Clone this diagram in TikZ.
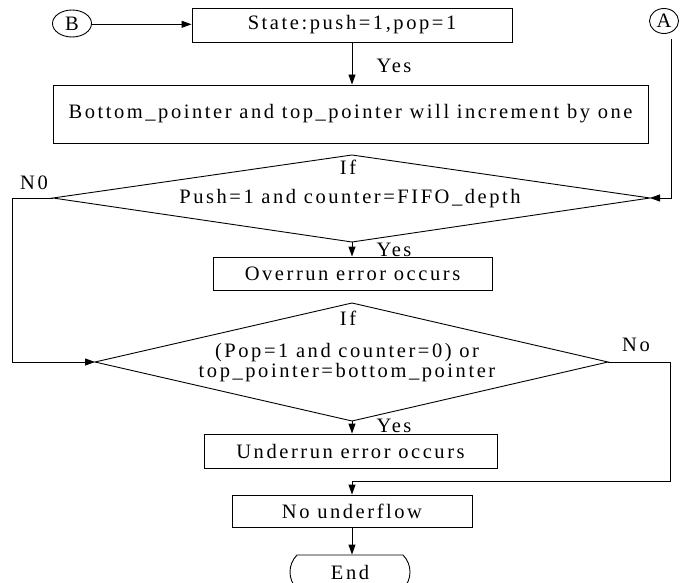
\documentclass[tikz,border=0pt]{standalone}
\usepackage{fontspec}
\setmainfont{Liberation Serif}[LetterSpace=12.5]
\usetikzlibrary{arrows.meta,shapes.misc,shapes.geometric}

\tikzset{
  base/.style={line width=0.9pt},
  stepbox/.style={base, draw, rectangle, inner sep=0pt, anchor=center},
  conn/.style={base, draw, -{Triangle[length=10pt,width=7pt]}},
  plain/.style={base, draw},
  lbl/.style={inner sep=0pt, anchor=center},
  circ/.style={base, draw, ellipse, inner sep=0pt},
}

\begin{document}
\begin{tikzpicture}[x=1pt,y=-1pt,font=\fontsize{20.5}{22}\selectfont]
\useasboundingbox (0,0) rectangle (680,583);

% off-page connectors
\node[circ, minimum width=39pt, minimum height=27pt] (B) at (72,23.5) {B};
\node[circ, minimum width=29pt, minimum height=25pt] (A) at (664,21) {A};
\coordinate (Aout) at (671,39);

% process boxes
\node[stepbox, minimum width=320pt, minimum height=34pt] (state) at (352,25) {State:push=1,pop=1};
\node[stepbox, minimum width=595pt, minimum height=58pt] (inc) at (350.5,114) {Bottom\_pointer and top\_pointer will increment by one};
\node[stepbox, minimum width=279pt, minimum height=33pt] (over) at (352.5,273.5) {Overrun error occurs};
\node[stepbox, minimum width=293pt, minimum height=34pt] (under) at (350.5,451) {Underrun error occurs};
\node[stepbox, minimum width=240pt, minimum height=32pt] (noflow) at (352,511) {No underflow};
\node[base, draw, rounded rectangle, rounded rectangle arc length=90,
      minimum width=120pt, minimum height=34pt, inner sep=0pt] (end) at (350,572) {End};

% first decision
\coordinate (d1t) at (352,155);
\coordinate (d1r) at (650,198);
\coordinate (d1b) at (352,242);
\coordinate (d1l) at (53,198);
\draw[plain] (d1t) -- (d1r) -- (d1b) -- (d1l) -- cycle;
\node[lbl] (if1) at (348,167) {If};
\node[lbl] (c1) at (350,199) {Push=1 and counter=FIFO\_depth};

% second decision
\coordinate (d2t) at (352,303);
\coordinate (d2r) at (608,362);
\coordinate (d2b) at (352,421);
\coordinate (d2l) at (95,362);
\draw[plain] (d2t) -- (d2r) -- (d2b) -- (d2l) -- cycle;
\node[lbl] (if2) at (348,318) {If};
\node[lbl, align=center] (c2) at (347,362.5) {(Pop=1 and counter=0) or\\[-2pt]top\_pointer=bottom\_pointer};

% flow
\draw[conn] (B.east |- 0,24.3) -- (state.west |- 0,24.3);
\draw[conn] (Aout) -- (Aout |- d1r) -- (d1r);
\draw[conn] (state.south -| 352,0) -- (inc.north -| 352,0);
\node[lbl] (yes1) at (394,66) {Yes};
\draw[conn] (d1b) -- (over.north -| d1b);
\node[lbl] (yes2) at (394,250) {Yes};
\coordinate (n0a) at (12,198);
\coordinate (n0b) at (12,362);
\draw[conn] (d1l) -- (n0a) -- (n0b) -- (d2l);
\node[lbl] (no1) at (34,183) {N0};
\draw[conn] (d2b) -- (under.north -| d2b);
\node[lbl] (yes3) at (394,426) {Yes};
\coordinate (noa) at (670,362);
\coordinate (nob) at (670,481);
\coordinate (noc) at (352,481);
\draw[plain] (d2r) -- (noa) -- (nob) -- (noc);
\draw[conn] (noc) -- (noflow.north -| noc);
\node[lbl] (no2) at (636,345) {No};
\draw[conn] (noflow.south -| 352,0) -- (end.north -| 352,0);
\end{tikzpicture}
\end{document}
